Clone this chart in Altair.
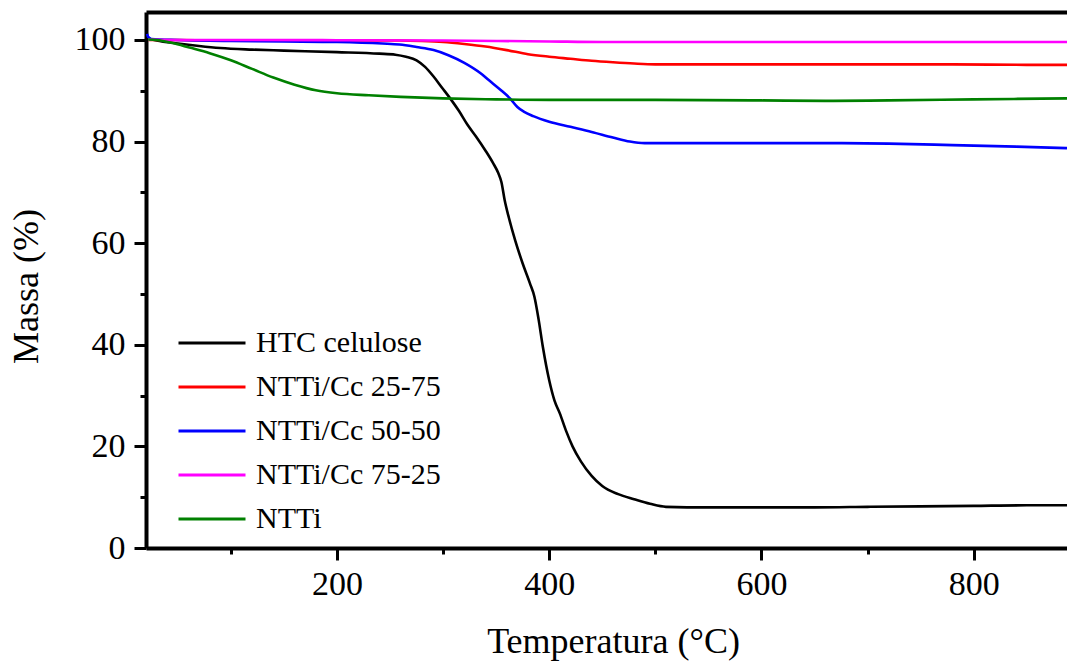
import altair as alt
import pandas as pd

series_names = ["HTC celulose", "NTTi/Cc 25-75", "NTTi/Cc 50-50", "NTTi/Cc 75-25", "NTTi"]
series_colors = ["#000000", "#FF0000", "#0000FF", "#FF00FF", "#008000"]

htc_T = [22, 30, 50, 70, 90, 120, 150, 200, 240, 255, 265, 275, 283, 291, 299, 307, 315, 323, 331, 340,
         347, 352, 355, 358, 362, 368, 375, 382, 386, 390, 394, 400, 405, 410, 416, 422, 430, 440, 450,
         465, 480, 495, 510, 550, 600, 650, 700, 750, 800, 850, 888]
htc_M = [100.3, 99.9, 99.3, 98.8, 98.4, 98.1, 97.9, 97.6, 97.3, 97.1, 96.7, 96.0, 94.7, 92.8, 90.6, 88.4,
         86.0, 83.3, 81.0, 78.2, 75.8, 73.8, 72.0, 68.5, 65.0, 60.5, 56.0, 52.0, 49.5, 45.0, 39.6, 33.0,
         29.0, 26.5, 23.0, 20.0, 17.0, 14.2, 12.2, 10.6, 9.6, 8.7, 8.1, 8.0, 8.0, 8.0, 8.1, 8.2, 8.3, 8.4, 8.4]

r2575_T = [22, 50, 100, 150, 200, 259, 280, 300, 320, 340, 360, 380, 400, 420, 440, 460, 480, 500, 550,
           600, 700, 780, 850, 888]
r2575_M = [100.0, 100.0, 99.9, 99.9, 99.9, 99.9, 99.8, 99.6, 99.2, 98.7, 98.0, 97.2, 96.7, 96.3, 95.9,
           95.6, 95.35, 95.2, 95.2, 95.2, 95.2, 95.2, 95.1, 95.1]

r5050_T = [21, 22, 25, 50, 100, 150, 200, 243, 259, 275, 291, 305, 320, 335, 343, 354, 363, 370, 376,
           385, 400, 420, 440, 460, 476, 490, 500, 600, 660, 720, 780, 840, 888]
r5050_M = [101.2, 100.6, 100.2, 100.0, 99.8, 99.7, 99.6, 99.3, 99.1, 98.6, 98.0, 97.0, 95.5, 93.5, 92.1,
           90.2, 88.5, 86.8, 85.9, 85.0, 83.9, 82.9, 81.9, 80.8, 80.0, 79.7, 79.7, 79.7, 79.7, 79.6, 79.3,
           79.0, 78.7]

r7525_T = [22, 50, 100, 200, 300, 350, 400, 450, 500, 600, 700, 800, 888]
r7525_M = [100.1, 100.0, 100.0, 99.95, 99.9, 99.8, 99.7, 99.6, 99.6, 99.6, 99.6, 99.6, 99.6]

ntti_T = [22, 30, 45, 61, 80, 100, 120, 140, 160, 180, 200, 230, 260, 300, 350, 400, 500, 600, 660, 720,
          800, 888]
ntti_M = [100.1, 100.0, 99.4, 98.5, 97.4, 96.0, 94.3, 92.6, 91.2, 90.1, 89.5, 89.1, 88.8, 88.5, 88.3,
          88.2, 88.2, 88.1, 88.0, 88.1, 88.3, 88.5]

x_ticks = [100, 200, 300, 400, 500, 600, 700, 800]
y_ticks = [0, 10, 20, 30, 40, 50, 60, 70, 80, 90, 100]

rows = []
for name, ts, ms in zip(series_names,
                        [htc_T, r2575_T, r5050_T, r7525_T, ntti_T],
                        [htc_M, r2575_M, r5050_M, r7525_M, ntti_M]):
    for t, m in zip(ts, ms):
        rows.append({"serie": name, "T": t, "M": m})
df = pd.DataFrame(rows)

FONT = "Liberation Serif"
x_scale = alt.Scale(domain=[20, 888], nice=False, zero=False)
y_scale = alt.Scale(domain=[0, 105.5], nice=False, zero=False)

x_axis = alt.Axis(
    values=x_ticks,
    labelExpr="datum.value % 200 === 0 ? datum.label : ''",
    tickSize={"condition": {"test": "datum.value % 200 === 0", "value": 12}, "value": 6},
    labelPadding=7,
    labelFlush=False,
    labelOverlap=False,
    title="Temperatura (°C)",
    titleX=467,
    titleY=104,
    titleBaseline="alphabetic",
)
y_axis = alt.Axis(
    values=y_ticks,
    labelExpr="datum.value % 20 === 0 ? datum.label : ''",
    tickSize={"condition": {"test": "datum.value % 20 === 0", "value": 12}, "value": 6},
    labelPadding=9,
    labelFlush=False,
    labelOverlap=False,
    title="Massa (%)",
    titleX=-109,
    titleY=274,
    titleBaseline="alphabetic",
)

legend = alt.Legend(
    orient="none", legendX=31, legendY=316, title=None,
    symbolType="stroke", symbolSize=4489, symbolStrokeWidth=3,
    labelFont=FONT, labelFontSize=30, labelColor="black", labelLimit=0,
    clipHeight=30, rowPadding=14, labelOffset=9, padding=0,
)

lines = alt.Chart(df).mark_line(strokeWidth=2.6, interpolate="monotone").encode(
    x=alt.X("T:Q", scale=x_scale, axis=x_axis),
    y=alt.Y("M:Q", scale=y_scale, axis=y_axis),
    color=alt.Color("serie:N", scale=alt.Scale(domain=series_names, range=series_colors),
                    sort=series_names, legend=legend),
    order=alt.Order("T:Q"),
)

top = alt.Chart(df).mark_point(opacity=0).encode(
    x=alt.X("T:Q", scale=x_scale,
            axis=alt.Axis(orient="top", labels=False, ticks=False, title=None, domainWidth=4)),
    y=alt.Y("M:Q", scale=y_scale, axis=None),
)

chart = alt.layer(lines, top).resolve_axis(x="independent", y="independent").properties(
    width=921, height=536,
    autosize=alt.AutoSizeParams(type="none"),
    padding={"left": 146, "top": 12, "right": 0, "bottom": 116},
    background="white",
).configure_view(stroke=None).configure_axis(
    domainColor="black", domainWidth=4, tickColor="black", tickWidth=3,
    labelColor="black", titleColor="black", labelFont=FONT, titleFont=FONT,
    labelFontSize=34, titleFontSize=36, titleFontWeight="normal", grid=False,
)

chart.save("out.html", embed_options={"renderer": "svg", "actions": False})
